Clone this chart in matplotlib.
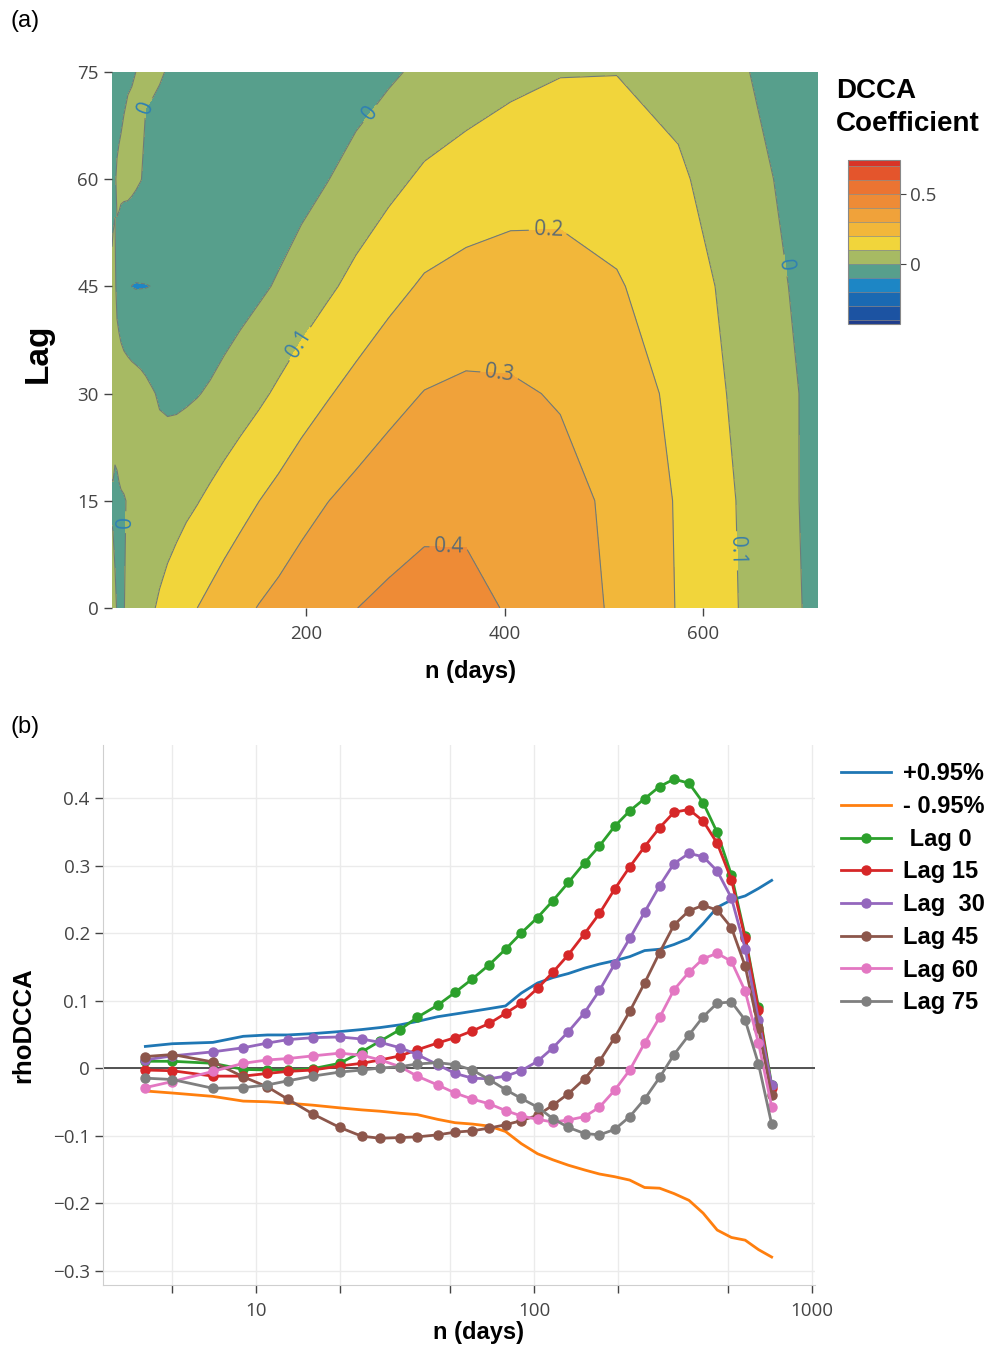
import matplotlib
matplotlib.use('Agg')
import matplotlib.pyplot as plt
import numpy as np
from matplotlib.colors import ListedColormap, BoundaryNorm
from matplotlib.cm import ScalarMappable
from matplotlib.ticker import FixedLocator, FixedFormatter, NullLocator

plt.rcParams['font.family'] = ['Open Sans', 'DejaVu Sans']

# window sizes n (days)
n_days = [4, 5, 7, 9, 11, 13, 16, 20, 24, 28, 33, 38, 45, 52, 60, 69, 79, 90, 103, 117,
          133, 152, 172, 195, 221, 250, 283, 319, 361, 406, 456, 513, 575, 642, 716]

lags = [0, 15, 30, 45, 60, 75]

lag0 = [0.010, 0.010, 0.007, -0.002, -0.003, -0.003, -0.001, 0.007, 0.024, 0.040, 0.057, 0.075,
        0.093, 0.112, 0.132, 0.153, 0.176, 0.200, 0.223, 0.248, 0.275, 0.304, 0.329, 0.358,
        0.381, 0.399, 0.417, 0.428, 0.422, 0.393, 0.349, 0.286, 0.195, 0.090, -0.025]
lag15 = [-0.003, -0.004, -0.012, -0.012, -0.008, -0.005, -0.003, 0.003, 0.007, 0.012, 0.018, 0.027,
         0.037, 0.045, 0.055, 0.066, 0.081, 0.096, 0.118, 0.142, 0.168, 0.199, 0.229, 0.265,
         0.298, 0.328, 0.356, 0.379, 0.383, 0.366, 0.333, 0.279, 0.192, 0.086, -0.030]
lag30 = [0.012, 0.018, 0.024, 0.030, 0.037, 0.042, 0.045, 0.046, 0.043, 0.038, 0.030, 0.020,
         0.005, -0.008, -0.015, -0.016, -0.012, -0.004, 0.010, 0.030, 0.054, 0.082, 0.115, 0.154,
         0.192, 0.231, 0.270, 0.303, 0.318, 0.313, 0.292, 0.252, 0.177, 0.071, -0.025]
lag45 = [0.017, 0.020, 0.009, -0.013, -0.028, -0.046, -0.068, -0.088, -0.101, -0.104, -0.103, -0.102,
         -0.099, -0.095, -0.093, -0.089, -0.084, -0.078, -0.070, -0.055, -0.038, -0.016, 0.010, 0.045,
         0.084, 0.126, 0.171, 0.212, 0.233, 0.241, 0.234, 0.208, 0.151, 0.059, -0.040]
lag60 = [-0.029, -0.020, -0.005, 0.007, 0.012, 0.014, 0.018, 0.022, 0.019, 0.012, 0.002, -0.012,
         -0.025, -0.037, -0.046, -0.053, -0.063, -0.071, -0.076, -0.080, -0.077, -0.072, -0.058, -0.033,
         -0.003, 0.037, 0.075, 0.116, 0.142, 0.162, 0.170, 0.158, 0.114, 0.037, -0.057]
lag75 = [-0.015, -0.017, -0.030, -0.029, -0.025, -0.019, -0.012, -0.006, -0.003, 0.000, 0.002, 0.006,
         0.008, 0.005, -0.003, -0.017, -0.032, -0.045, -0.058, -0.075, -0.088, -0.097, -0.099, -0.091,
         -0.072, -0.046, -0.014, 0.020, 0.049, 0.076, 0.096, 0.098, 0.071, 0.006, -0.083]

ci_upper = [0.032, 0.036, 0.038, 0.047, 0.049, 0.049, 0.051, 0.054, 0.057, 0.060, 0.064, 0.069,
            0.076, 0.080, 0.084, 0.088, 0.092, 0.111, 0.126, 0.134, 0.140, 0.148, 0.154, 0.159,
            0.165, 0.174, 0.176, 0.183, 0.192, 0.214, 0.238, 0.249, 0.255, 0.266, 0.278]
ci_lower = [-0.034, -0.037, -0.042, -0.049, -0.050, -0.052, -0.055, -0.059, -0.062, -0.064, -0.067, -0.069,
            -0.076, -0.081, -0.083, -0.086, -0.094, -0.112, -0.127, -0.136, -0.144, -0.151, -0.157, -0.161,
            -0.166, -0.177, -0.178, -0.186, -0.196, -0.215, -0.240, -0.251, -0.255, -0.269, -0.280]

cb_bounds = [-0.43, -0.4, -0.3, -0.2, -0.1, 0, 0.1, 0.2, 0.3, 0.4, 0.5, 0.6, 0.7, 0.74]
cb_colors = ['#1f3c8c', '#1c53a2', '#1a69b2', '#1d86c5', '#579f8c', '#a7ba63', '#f1d53b',
             '#f2b73a', '#f0a23a', '#ee8b36', '#eb7432', '#e4552c', '#d83427']
label_levels = [0, 0.1, 0.2, 0.3, 0.4]
label_colors = ['#2f80b3', '#3d7fa6', '#5d6b72', '#5d6b72', '#5d6b72']
label_spots = [(39, 70), (266, 69), (444, 53), (688, 48), (193, 37),
               (395, 33), (19, 12), (344, 9.5), (637, 8)]

series = [(lag0, ' Lag 0', '#2ca02c'), (lag15, 'Lag 15', '#d62728'),
          (lag30, 'Lag  30', '#9467bd'), (lag45, 'Lag 45', '#8c564b'),
          (lag60, 'Lag 60', '#e377c2'), (lag75, 'Lag 75', '#7f7f7f')]

tick_col = '#444444'
line_col = '#6e7b78'
bold = dict(family=['Liberation Sans', 'DejaVu Sans'], weight='bold')

fig = plt.figure(figsize=(9.94, 13.48), dpi=100)

# ---------------- (a) contour ----------------
cmap = ListedColormap(cb_colors)
norm = BoundaryNorm(cb_bounds, cmap.N)
Z = np.array([lag0, lag15, lag30, lag45, lag60, lag75])

ax1 = fig.add_axes([0.1127, 0.5490, 0.7103, 0.3976])
ax1.contourf(n_days, lags, Z, levels=cb_bounds, cmap=cmap, norm=norm)
ax1.contour(n_days, lags, Z, levels=[-0.1], colors=line_col, linewidths=0.8)
cs = ax1.contour(n_days, lags, Z, levels=label_levels, colors=line_col, linewidths=0.8)
ax1.clabel(cs, manual=label_spots, inline=True, fontsize=15,
           colors=label_colors, fmt=lambda v: '0' if abs(v) < 1e-9 else '%g' % v)
ax1.set_xlim(n_days[0], n_days[-1])
ax1.set_ylim(0, 75)
ax1.set_xticks([200, 400, 600])
ax1.set_yticks([0, 15, 30, 45, 60, 75])
ax1.tick_params(direction='out', length=6, width=1, color=tick_col, labelcolor=tick_col,
                labelsize=13.5)
ax1.tick_params(axis='x', pad=6)
for s in ax1.spines.values():
    s.set_visible(False)
ax1.set_xlabel('n (days)', fontsize=17, color='black', **bold)
ax1.xaxis.set_label_coords(0.508, -0.097)
ax1.set_ylabel('Lag', fontsize=24, color='black', **bold)
ax1.yaxis.set_label_coords(-0.083, 0.476)

cax = fig.add_axes([848 / 994, 1 - 324 / 1348, 52 / 994, 164 / 1348])
cb = fig.colorbar(ScalarMappable(norm=norm, cmap=cmap), cax=cax, ticks=[0, 0.5],
                  spacing='proportional', drawedges=True)
cb.ax.minorticks_off()
cb.ax.set_yticklabels(['0', '0.5'])
cb.outline.set_edgecolor('#888888')
cb.outline.set_linewidth(0.8)
cb.dividers.set_color('#8a8a8a')
cb.dividers.set_linewidth(0.5)
cb.ax.tick_params(direction='out', length=4, color=tick_col, labelcolor=tick_col, labelsize=13.5)
fig.text(836 / 994, 1 - 78 / 1348, 'DCCA\nCoefficient', ha='left', va='top', fontsize=20,
         linespacing=1.35, **bold)

fig.text(10 / 994, 1 - 10 / 1348, '(a)', ha='left', va='top', fontsize=17,
         family=['Liberation Sans', 'DejaVu Sans'])
fig.text(10 / 994, 1 - 716 / 1348, '(b)', ha='left', va='top', fontsize=17,
         family=['Liberation Sans', 'DejaVu Sans'])

# ---------------- (b) rhoDCCA vs n ----------------
ax2 = fig.add_axes([0.1036, 0.0467, 0.7163, 0.4006])
ax2.set_xscale('log')
ax2.axhline(0, color='#444444', lw=1.3, zorder=1.5)
ax2.plot(n_days, ci_upper, color='#1f77b4', lw=2, label='+0.95%', zorder=2)
ax2.plot(n_days, ci_lower, color='#ff7f0e', lw=2, label='- 0.95%', zorder=2)
for vals, lab, col in series:
    ax2.plot(n_days, vals, color=col, lw=2, marker='o', ms=6.5, label=lab, zorder=3)

ax2.set_xlim(2.816, 1025)
ax2.set_ylim(-0.3215, 0.4785)
ax2.xaxis.set_major_locator(FixedLocator([5, 10, 20, 50, 100, 200, 500, 1000]))
ax2.xaxis.set_major_formatter(FixedFormatter(['', '10', '', '', '100', '', '', '1000']))
ax2.xaxis.set_minor_locator(NullLocator())
yt = [-0.3, -0.2, -0.1, 0, 0.1, 0.2, 0.3, 0.4]
ax2.yaxis.set_major_locator(FixedLocator(yt))
ax2.yaxis.set_major_formatter(FixedFormatter(['\u22120.3', '\u22120.2', '\u22120.1', '0',
                                              '0.1', '0.2', '0.3', '0.4']))
ax2.grid(True, color='#ebebeb', lw=1)
ax2.set_axisbelow(True)
ax2.tick_params(direction='out', length=6, width=1, color=tick_col, labelcolor=tick_col,
                labelsize=13.5)
ax2.tick_params(axis='x', pad=6)
for side in ['top', 'right']:
    ax2.spines[side].set_visible(False)
for side in ['left', 'bottom']:
    ax2.spines[side].set_color('#cfcfcf')
ax2.set_xlabel('n (days)', fontsize=17, color='black', **bold)
ax2.xaxis.set_label_coords(0.527, -0.066)
ax2.set_ylabel('rhoDCCA', fontsize=18.5, color='black', **bold)
ax2.yaxis.set_label_coords(-0.095, 0.481)

ax2.legend(loc='upper left', bbox_to_anchor=(832 / 994, 1 - 753 / 1348),
           bbox_transform=fig.transFigure, frameon=False, handlelength=2.1,
           handletextpad=0.5, labelspacing=0.41, borderaxespad=0,
           prop=dict(family=['Liberation Sans', 'DejaVu Sans'], weight='bold', size=17))

fig.savefig('out.png', dpi=100)
